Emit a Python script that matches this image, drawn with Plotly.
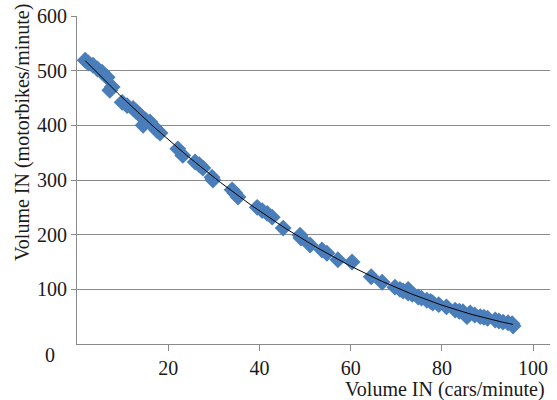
import numpy as np
import plotly.graph_objects as go

cars = [1.8, 2.5, 3.5, 4.5, 5.5, 6.6, 7.2, 7.7, 9.9, 11.0, 12.3, 13.0, 13.8, 14.5, 15.0,
        16.0, 16.8, 17.5, 18.2, 22.1, 23.2, 25.9, 26.8, 27.6, 29.6, 29.8, 34.0, 34.6,
        35.3, 39.5, 40.6, 41.7, 42.8, 45.2, 48.9, 49.1, 51.1, 53.7, 54.8, 57.2, 60.3,
        64.5, 66.9, 69.7, 70.8, 71.5, 72.6, 72.6, 73.5, 74.8, 75.5, 76.7, 77.5, 78.0,
        79.3, 81.0, 82.9, 83.8, 84.6, 85.5, 86.2, 87.2, 88.4, 89.2, 90.0, 91.7, 92.5,
        93.4, 94.5, 95.4, 95.6]
motorbikes = [519, 514, 510, 503, 497, 488, 464, 470, 442, 436, 431, 425, 419, 400, 410,
              406, 398, 391, 386, 357, 345, 333, 328, 322, 305, 300, 282, 276,
              269, 250, 244, 239, 232, 212, 199, 194, 181, 172, 166, 154, 150,
              123, 113, 104, 100, 97, 100, 93, 91, 86, 84, 80, 78, 75,
              72, 68, 62, 60, 59, 50, 57, 53, 50, 49, 47, 44, 42,
              40, 39, 37, 33]

x_ticks = [20, 40, 60, 80, 100]
y_ticks = [100, 200, 300, 400, 500, 600]

coef = np.polyfit(cars, motorbikes, 2)
tx = np.linspace(min(cars), max(cars), 200)
ty = np.polyval(coef, tx)

font = "Liberation Serif, Times New Roman, serif"
grid = "#8a8a8a"

W, H = 557, 400
L, R, T, B = 77, 7, 16, 56
pw, ph = W - L - R, H - T - B


def px_to_paper(px, py):
    return (px - L) / pw, (H - B - py) / ph


fig = go.Figure()
fig.add_trace(go.Scatter(
    x=cars, y=motorbikes, mode="markers",
    marker=dict(symbol="diamond", size=13, color="#4a7ebb", line=dict(width=0)),
    showlegend=False, hoverinfo="skip"))
fig.add_trace(go.Scatter(
    x=tx, y=ty, mode="lines", line=dict(color="#000000", width=1),
    showlegend=False, hoverinfo="skip"))

ax0 = px_to_paper(50, 355)
axt = px_to_paper(547, 389)
ayt = px_to_paper(22, 133)

fig.update_layout(
    width=W, height=H,
    margin=dict(l=L, r=R, t=T, b=B),
    paper_bgcolor="white", plot_bgcolor="white",
    font=dict(family=font, size=20, color="#1a1a1a"),
    xaxis=dict(range=[0, 103.7], tickvals=x_ticks, showgrid=False, zeroline=False,
               showline=True, linecolor=grid, linewidth=1, automargin=False,
               ticks="outside", ticklen=6, tickcolor=grid, ticklabeloverflow="allow"),
    yaxis=dict(range=[0, 600], tickvals=y_ticks, showgrid=True, gridcolor=grid,
               gridwidth=1, zeroline=False, showline=True, linecolor=grid, linewidth=1,
               automargin=False, ticks="outside", ticklen=5, tickcolor=grid,
               ticklabeloverflow="allow"),
    annotations=[
        dict(text="0", x=ax0[0], y=ax0[1], xref="paper", yref="paper", showarrow=False,
             xanchor="center", yanchor="middle", font=dict(size=20)),
        dict(text="Volume IN (cars/minute)", xref="paper", yref="paper",
             x=axt[0], y=axt[1], xanchor="right", yanchor="middle", showarrow=False,
             font=dict(size=20)),
        dict(text="Volume IN (motorbikes/minute)", xref="paper", yref="paper",
             x=ayt[0], y=ayt[1], textangle=-90, xanchor="center", yanchor="middle",
             showarrow=False, font=dict(size=20)),
    ],
)

fig.write_html(
    "out.html",
    config={"displayModeBar": False, "staticPlot": True},
    post_script="document.body.style.margin='0';document.body.style.overflow='hidden';",
)
